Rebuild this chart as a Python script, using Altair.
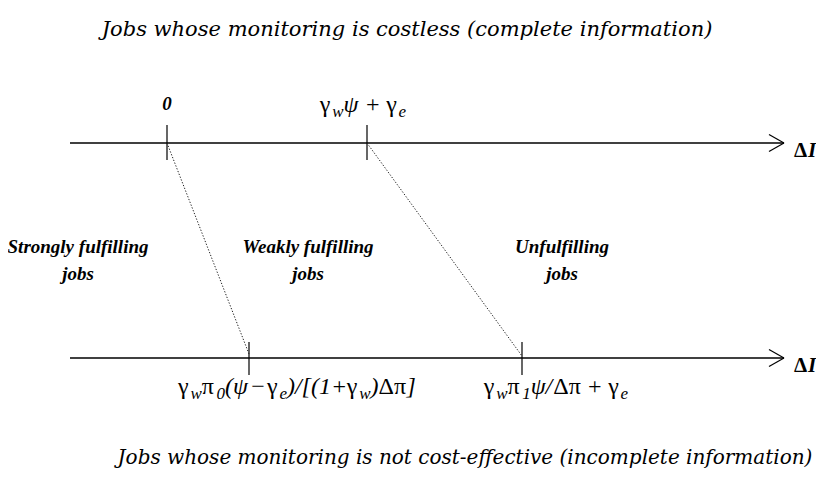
import altair as alt
import pandas as pd

# ---------------- content ----------------
top_title = "Jobs whose monitoring is costless (complete information)"
bottom_title = "Jobs whose monitoring is not cost-effective (incomplete information)"
region_lines1 = ["Strongly fulfilling", "Weakly fulfilling", "Unfulfilling"]
region_lines2 = ["jobs", "jobs", "jobs"]
region_x = [78, 308, 562]
axis_y = [143, 358]
axis_x_start = 70
axis_x_end = 784
top_ticks = [167, 367]
bottom_ticks = [249, 522]
axis_name_a = "Δ"
axis_name_b = "I"

# math labels as pieces: (text, kind) kind: "g"=upright, "i"=italic, "s"=subscript italic, "sp"/"hs"=gaps
label_top_tick = [("γ", "g"), ("w", "s"), ("ψ", "i"), ("", "sp"), ("+", "g"), ("", "sp"),
                  ("γ", "g"), ("e", "s")]
label_bot_a = [("γ", "g"), ("w", "s"), ("π", "g"), ("0", "s"), ("(ψ", "i"), ("", "hs"), ("−", "g"),
               ("", "hs"), ("γ", "g"), ("e", "s"), (")/[(1+", "i"), ("", "hs"), ("γ", "g"), ("w", "s"),
               (")", "i"), ("Δπ", "g"), ("]", "i")]
label_bot_b = [("γ", "g"), ("w", "s"), ("π", "g"), ("1", "s"), ("ψ/", "i"), ("Δπ", "g"), ("", "sp"),
               ("+", "g"), ("", "sp"), ("γ", "g"), ("e", "s")]

W = 808
H = 472
MAIN = 24
SUB = 17

em = {"γ": 0.45, "ψ": 0.66, "π": 0.55, "Δ": 0.62, "w": 0.667, "e": 0.444, "0": 0.5, "1": 0.5,
      "(": 0.333, ")": 0.333, "[": 0.389, "]": 0.389, "/": 0.278, "+": 0.564, "−": 0.564}


def piece_width(text, kind):
    if kind == "sp":
        return 0.28 * MAIN
    if kind == "hs":
        return 0.1 * MAIN
    size = SUB if kind == "s" else MAIN
    w = sum(em.get(c, 0.5) for c in text) * size
    return w + (1.5 if kind == "s" else 0)


def build(pieces, cx, y):
    total = sum(piece_width(t, k) for t, k in pieces)
    x = cx - total / 2
    rows = []
    for t, k in pieces:
        if t:
            rows.append({"x": x + (1.5 if k == "s" else 0), "y": y + (5 if k == "s" else 0),
                         "text": t, "kind": k})
        x += piece_width(t, k)
    return rows


math_rows = (build(label_top_tick, 363, 112)
             + build(label_bot_a, 297, 394)
             + build(label_bot_b, 556, 394))
math_df = pd.DataFrame(math_rows)

# ---------------- geometry tables ----------------
solid = []
for y in axis_y:
    solid.append({"x": axis_x_start, "y": y, "x2": axis_x_end, "y2": y, "w": 1.6})
    solid.append({"x": axis_x_end - 15, "y": y - 8.5, "x2": axis_x_end, "y2": y, "w": 1.2})
    solid.append({"x": axis_x_end - 15, "y": y + 8.5, "x2": axis_x_end, "y2": y, "w": 1.2})
for t in top_ticks:
    solid.append({"x": t, "y": axis_y[0] - 18, "x2": t, "y2": axis_y[0] + 17, "w": 1.2})
for t in bottom_ticks:
    solid.append({"x": t, "y": axis_y[1] - 16, "x2": t, "y2": axis_y[1] + 17, "w": 1.2})
solid_df = pd.DataFrame(solid)

dotted_df = pd.DataFrame([
    {"x": top_ticks[0], "y": axis_y[0], "x2": bottom_ticks[0], "y2": axis_y[1] - 4},
    {"x": top_ticks[1], "y": axis_y[0], "x2": bottom_ticks[1], "y2": axis_y[1] - 2},
])

titles_df = pd.DataFrame([
    {"x": 407, "y": 30, "text": top_title, "size": 21},
    {"x": 465, "y": 458, "text": bottom_title, "size": 20},
])

regions_df = pd.DataFrame(
    [{"x": x, "y": 247, "text": t} for x, t in zip(region_x, region_lines1)]
    + [{"x": x, "y": 274, "text": t} for x, t in zip(region_x, region_lines2)]
    + [{"x": top_ticks[0], "y": 104, "text": "0"}]
)

axis_name_df = pd.DataFrame(
    [{"x": 794, "y": y + 14, "text": axis_name_a, "kind": "g"} for y in axis_y]
    + [{"x": 808, "y": y + 14, "text": axis_name_b, "kind": "i"} for y in axis_y]
)

xs = alt.Scale(domain=[8, 8 + W], nice=False, zero=False)
ys = alt.Scale(domain=[8 + H, 8], nice=False, zero=False)


def X(f="x"):
    return alt.X(f"{f}:Q", scale=xs, axis=None)


def Y(f="y"):
    return alt.Y(f"{f}:Q", scale=ys, axis=None)


solid_layer = alt.Chart(solid_df).mark_rule(color="black").encode(
    x=X(), y=Y(), x2="x2:Q", y2="y2:Q",
    strokeWidth=alt.StrokeWidth("w:Q", scale=None))

dotted_layer = alt.Chart(dotted_df).mark_rule(color="#222222", strokeWidth=1, strokeDash=[1.3, 1.7]).encode(
    x=X(), y=Y(), x2="x2:Q", y2="y2:Q")

title_layer = alt.Chart(titles_df).mark_text(
    font="DejaVu Serif", fontStyle="italic", align="center", baseline="middle",
    color="black").encode(x=X(), y=Y(), text="text:N", size=alt.Size("size:Q", scale=None))

region_layer = alt.Chart(regions_df).mark_text(
    font="Liberation Serif", fontStyle="italic", fontWeight="bold", fontSize=19, align="center",
    baseline="middle", color="black").encode(x=X(), y=Y(), text="text:N")

axis_name_g = alt.Chart(axis_name_df).transform_filter(alt.datum.kind == "g").mark_text(
    font="Liberation Serif", fontWeight="bold", fontSize=21, align="left", baseline="alphabetic",
    color="black").encode(x=X(), y=Y(), text="text:N")
axis_name_i = alt.Chart(axis_name_df).transform_filter(alt.datum.kind == "i").mark_text(
    font="Liberation Serif", fontStyle="italic", fontWeight="bold", fontSize=21, align="left",
    baseline="alphabetic", color="black").encode(x=X(), y=Y(), text="text:N")

math_g = alt.Chart(math_df).transform_filter(alt.datum.kind == "g").mark_text(
    font="Liberation Serif", fontSize=MAIN, align="left", baseline="alphabetic", color="black"
).encode(x=X(), y=Y(), text="text:N")
math_i = alt.Chart(math_df).transform_filter(alt.datum.kind == "i").mark_text(
    font="Liberation Serif", fontStyle="italic", fontSize=MAIN, align="left", baseline="alphabetic",
    color="black").encode(x=X(), y=Y(), text="text:N")
math_s = alt.Chart(math_df).transform_filter(alt.datum.kind == "s").mark_text(
    font="Liberation Serif", fontStyle="italic", fontSize=SUB, align="left", baseline="alphabetic",
    color="black").encode(x=X(), y=Y(), text="text:N")

chart = alt.layer(solid_layer, dotted_layer, title_layer, region_layer, axis_name_g, axis_name_i,
                  math_g, math_i, math_s).properties(
    width=W, height=H, autosize=alt.AutoSizeParams(type="none"), padding=0,
    background="white"
).configure_view(stroke=None)

chart.save("out.html", embed_options={"renderer": "svg", "actions": False})
